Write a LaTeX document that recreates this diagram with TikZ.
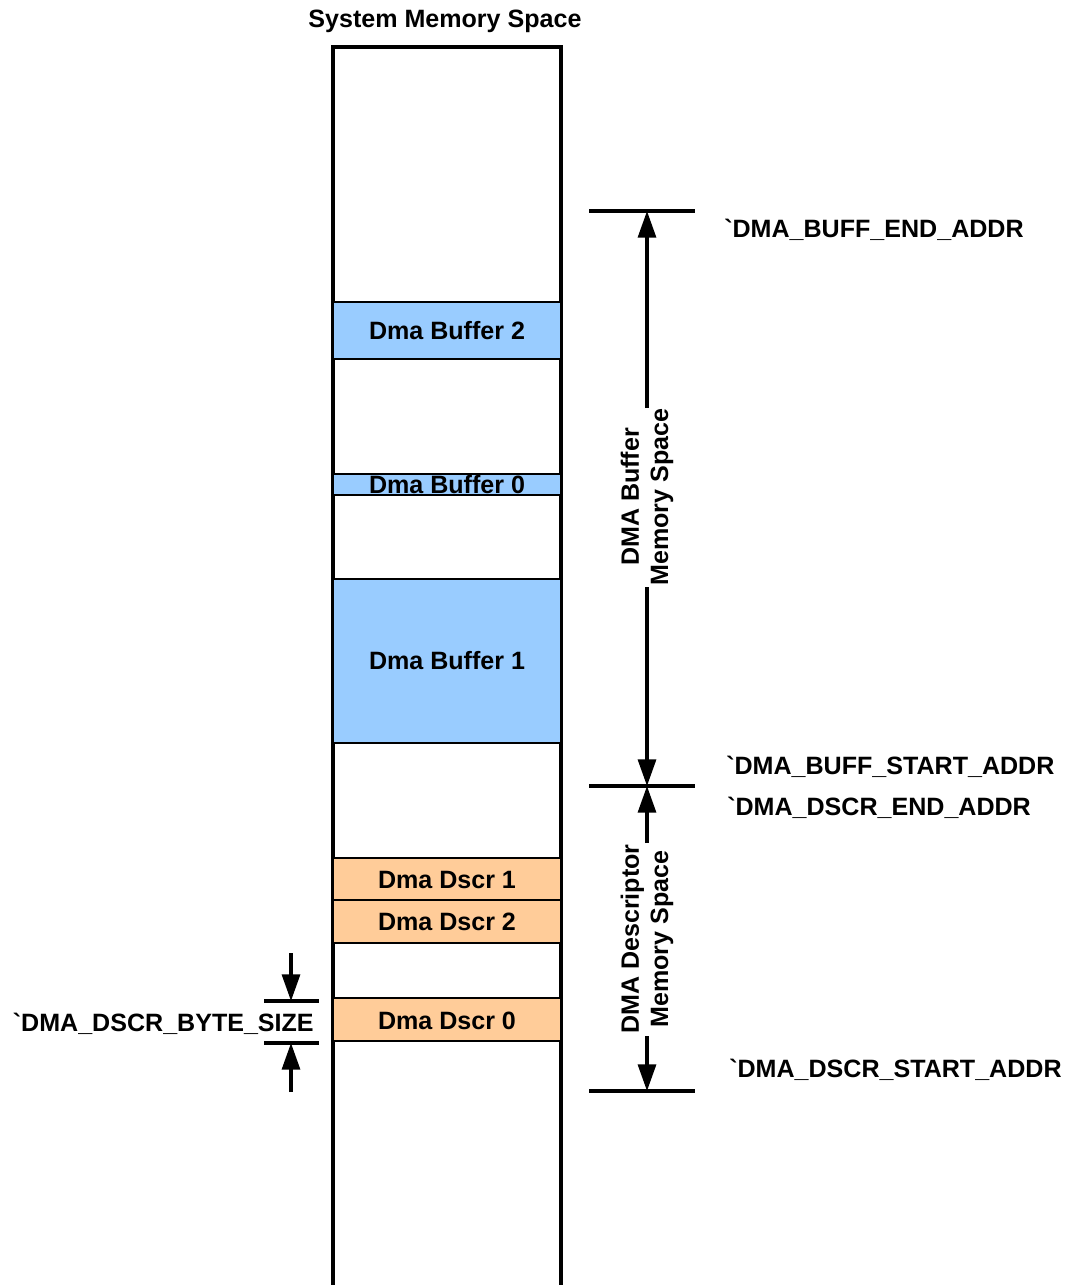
\documentclass[tikz,border=0pt]{standalone}
\usepackage{fontspec}
\setmainfont{Liberation Sans}
\usetikzlibrary{arrows.meta}
\definecolor{bufblue}{HTML}{99CCFF}
\definecolor{dscorange}{HTML}{FFCC99}
\begin{document}
\begin{tikzpicture}[x=0.75pt,y=-0.75pt,
  every node/.style={font=\fontsize{18.8}{22}\selectfont\bfseries, inner sep=0pt},
  membox/.style={draw=black, line width=2.1pt},
  bufbox/.style={membox, fill=bufblue},
  dscbox/.style={membox, fill=dscorange},
  marker/.style={line width=2.4pt},
  dimarrow/.style={line width=2.4pt, -{Triangle[length=20pt,width=13.5pt]}},
  addrlabel/.style={anchor=west},
  spacelabel/.style={rotate=90, align=center}]
\useasboundingbox (0,0) rectangle (1068,1285);
% title
\node (title) at (445,21) {System Memory Space};
% memory column
\draw[line width=2.4pt] (333,1290) -- (333,47) -- (561,47) -- (561,1290);
% buffers
\draw[bufbox] (333,302) rectangle (561,359);
\node (buf2) at (447,331) {Dma Buffer 2};
\draw[bufbox] (333,474) rectangle (561,495);
\node (buf0) at (447,485) {Dma Buffer 0};
\draw[bufbox] (333,579) rectangle (561,743);
\node (buf1) at (447,661) {Dma Buffer 1};
% descriptors
\draw[dscbox] (333,858) rectangle (561,900);
\node (dsc1) at (447,880) {Dma Dscr 1};
\draw[dscbox] (333,900) rectangle (561,943);
\node (dsc2) at (447,922) {Dma Dscr 2};
\draw[dscbox] (333,998) rectangle (561,1041);
\node (dsc0) at (447,1021) {Dma Dscr 0};
% markers
\coordinate (bufend) at (647,211);
\coordinate (bufstart) at (647,786);
\coordinate (dscstart) at (647,1091);
\draw[marker] (589,211) -- (695,211);
\draw[marker] (589,786) -- (695,786);
\draw[marker] (589,1091) -- (695,1091);
% span labels
\node[spacelabel] (buflbl) at (647,497) {DMA Buffer\\Memory Space};
\node[spacelabel] (dsclbl) at (647,939) {DMA Descriptor\\Memory Space};
\draw[dimarrow] (647,408) -- (bufend);
\draw[dimarrow] (647,587) -- (bufstart);
\draw[dimarrow] (647,843) -- (bufstart);
\draw[dimarrow] (647,1036) -- (dscstart);
% address labels
\node[addrlabel] (l1) at (724,230) {\textasciigrave DMA\_BUFF\_END\_ADDR};
\node[addrlabel] (l2) at (726,767) {\textasciigrave DMA\_BUFF\_START\_ADDR};
\node[addrlabel] (l3) at (727,808) {\textasciigrave DMA\_DSCR\_END\_ADDR};
\node[addrlabel] (l4) at (729,1070) {\textasciigrave DMA\_DSCR\_START\_ADDR};
% byte size
\coordinate (bstop) at (291,1001);
\coordinate (bsbot) at (291,1043);
\draw[marker] (264,1001) -- (319,1001);
\draw[marker] (264,1043) -- (319,1043);
\draw[dimarrow] (291,953) -- (bstop);
\draw[dimarrow] (291,1092) -- (bsbot);
\node[anchor=east] (bs) at (314,1024) {\textasciigrave DMA\_DSCR\_BYTE\_SIZE};
\end{tikzpicture}
\end{document}
